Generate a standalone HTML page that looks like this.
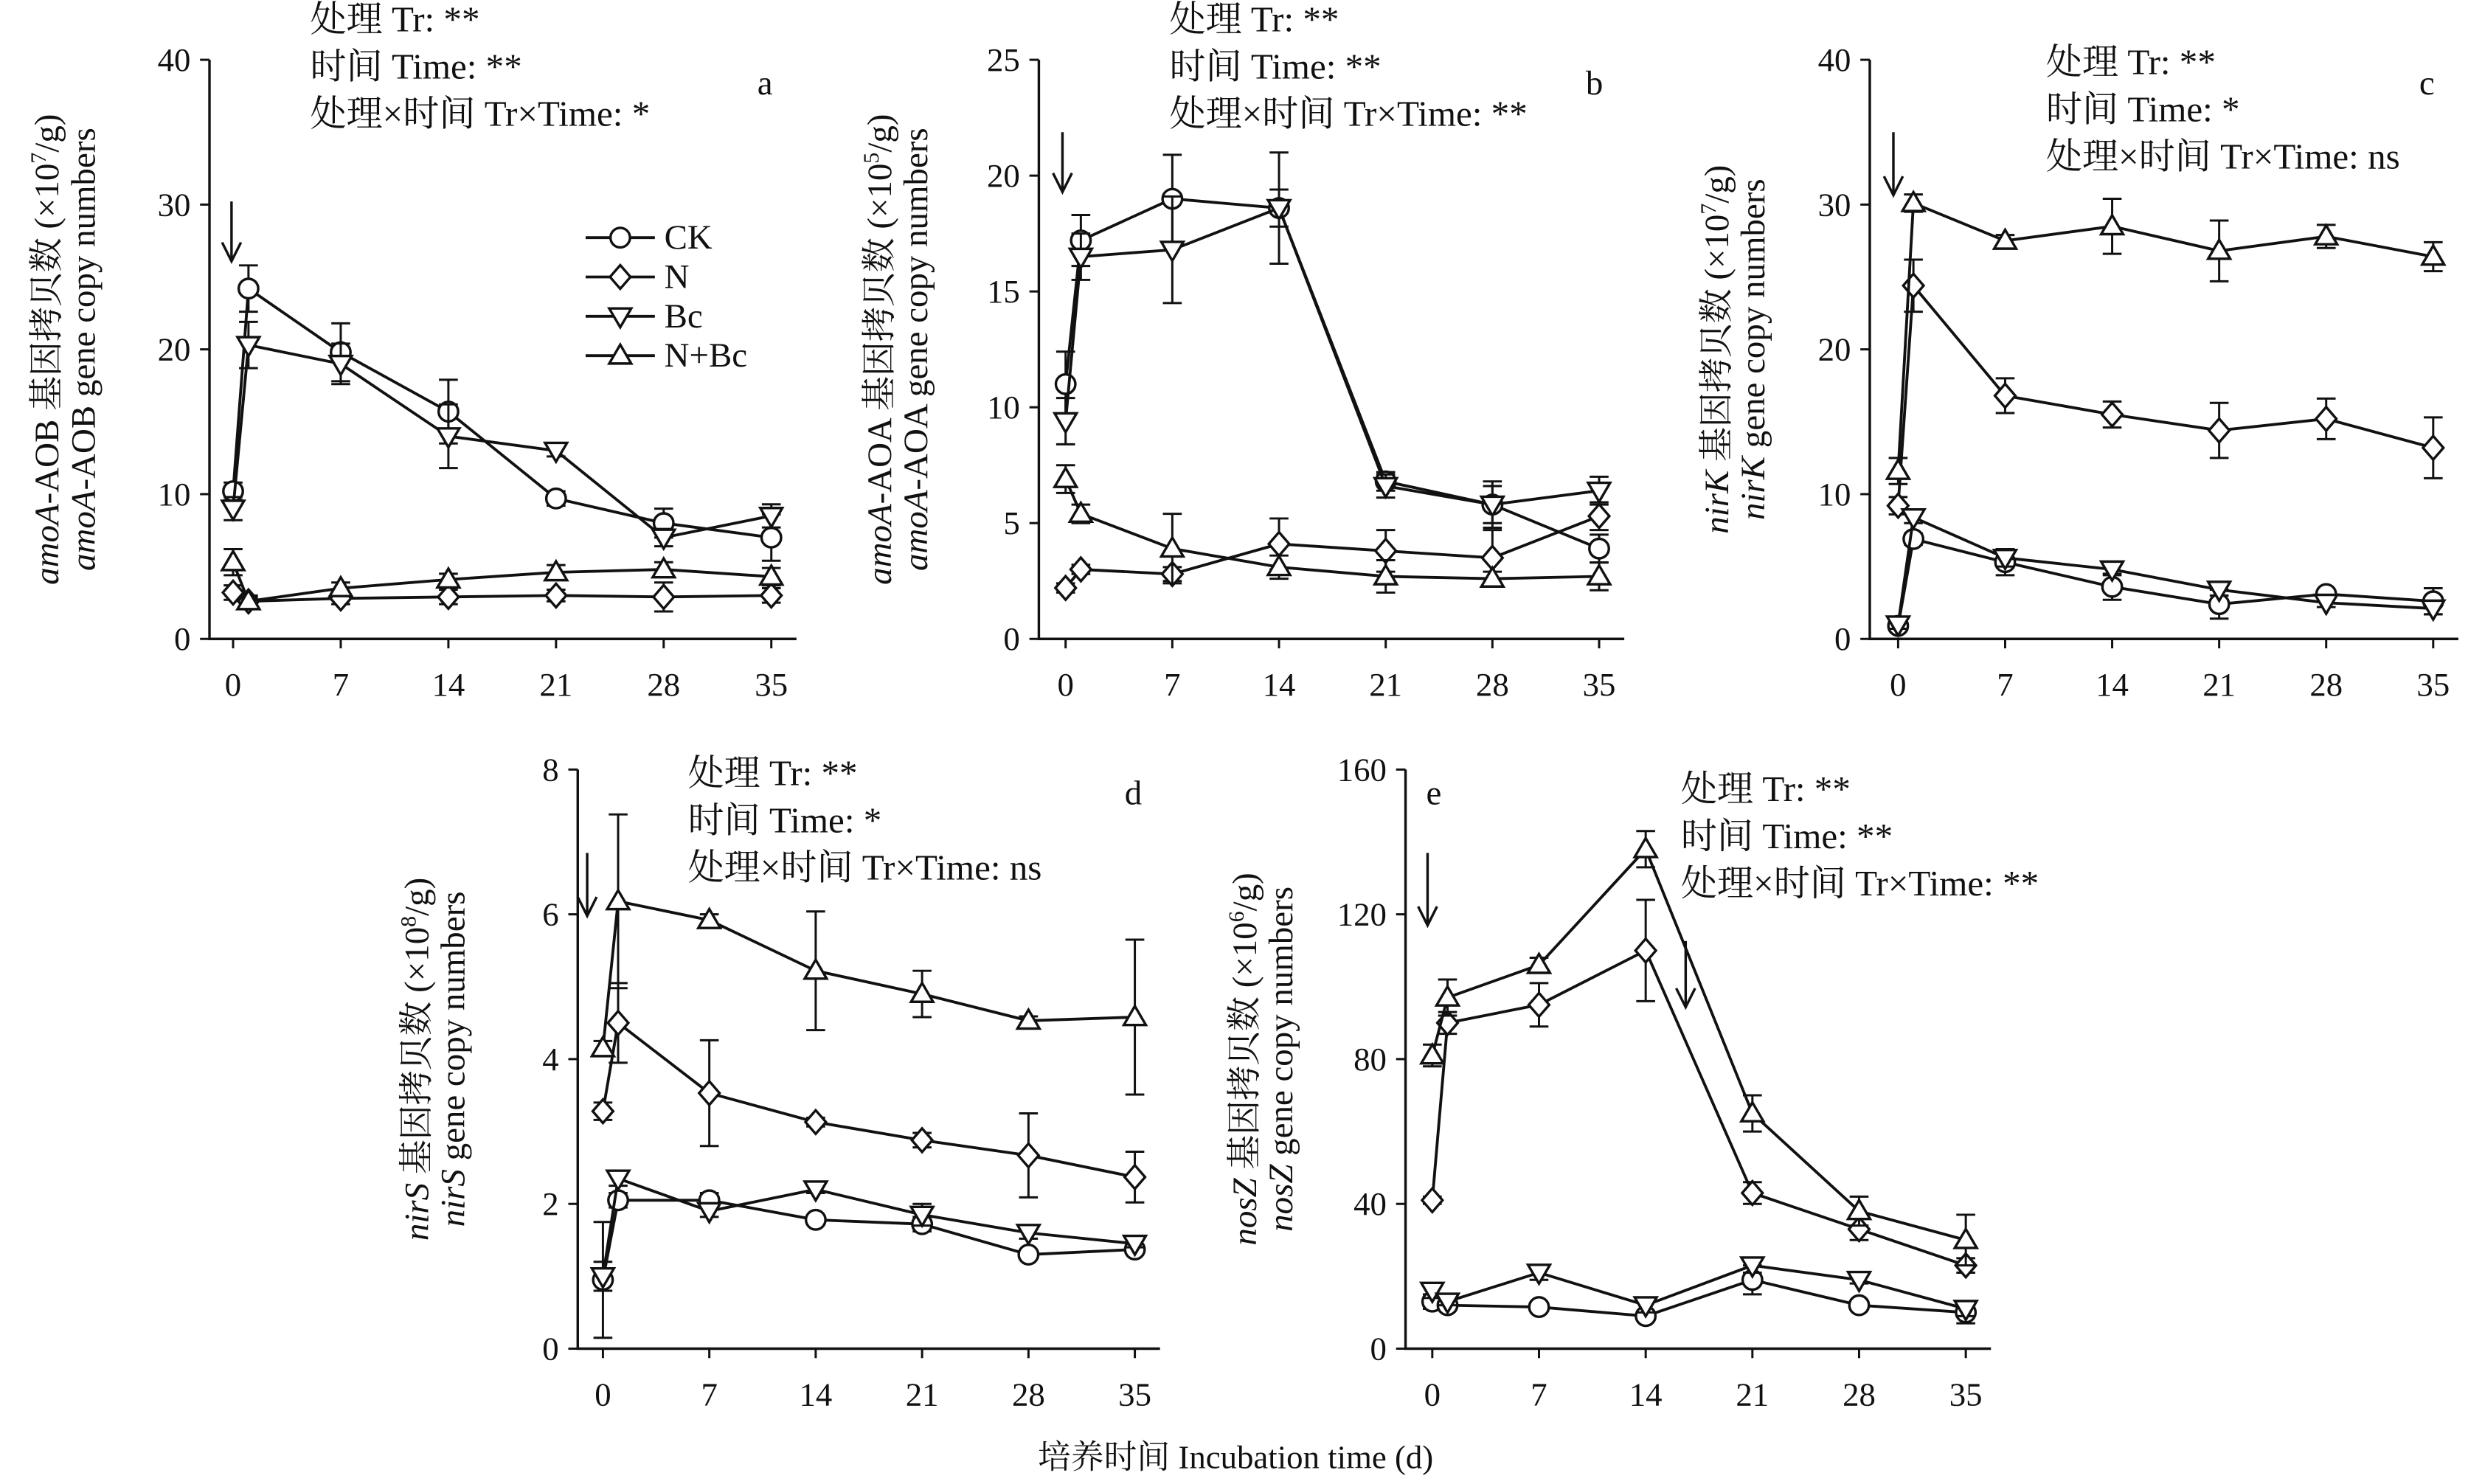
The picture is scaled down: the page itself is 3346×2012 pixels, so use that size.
<!DOCTYPE html>
<html><head><meta charset="utf-8"><style>
html,body{margin:0;padding:0;background:#fff}
svg{display:block}
text{font-family:"Liberation Serif","Noto Serif CJK SC","Noto Sans CJK SC",serif;fill:#111}
</style></head><body>
<svg id="fig" xmlns="http://www.w3.org/2000/svg" width="3346" height="2012" viewBox="0 0 1568 943">
<text x="785" y="933" font-size="21" text-anchor="middle">培养时间 Incubation time (d)</text>
</svg>
<script>
const days=[0,1,7,14,21,28,35];
const xTicks=[0,7,14,21,28,35];
const seriesNames=["CK","N","Bc","N+Bc"];
// panel a
const aCK=[10.2,24.2,19.8,15.7,9.7,8.0,7.0], aCKe=[0.6,1.6,2.0,2.2,0.5,1.0,1.6];
const aN=[3.2,2.6,2.8,2.9,3.0,2.9,3.0], aNe=[0.5,0.4,0.4,0.5,0.4,1.0,0.5];
const aBc=[9.0,20.3,19.0,14.0,13.0,7.0,8.5], aBce=[0.8,1.6,1.4,2.2,0.4,0.6,0.8];
const aNBc=[5.3,2.6,3.5,4.1,4.6,4.8,4.3], aNBce=[0.9,0.3,0.4,0.4,0.5,0.5,0.6];
// panel b
const bCK=[11.0,17.2,19.0,18.6,6.8,5.8,3.9], bCKe=[1.4,1.1,1.9,2.4,0.4,0.8,0.6];
const bN=[2.2,3.0,2.8,4.1,3.8,3.5,5.3], bNe=[0.2,0.2,0.3,1.1,0.9,1.2,0.6];
const bBc=[9.4,16.5,16.8,18.6,6.6,5.8,6.4], bBce=[1.0,1.0,2.3,0.8,0.5,1.0,0.6];
const bNBc=[6.9,5.4,3.9,3.1,2.7,2.6,2.7], bNBce=[0.6,0.4,1.5,0.5,0.7,0.3,0.6];
// panel c
const cCK=[0.9,6.9,5.3,3.6,2.4,3.1,2.6], cCKe=[0.3,0.4,0.9,0.9,1.0,0.3,0.9];
const cN=[9.2,24.4,16.8,15.5,14.4,15.2,13.2], cNe=[0.6,1.8,1.2,0.9,1.9,1.4,2.1];
const cBc=[1.0,8.4,5.6,4.8,3.4,2.5,2.1], cBce=[0.3,0.4,0.6,0.4,0.4,0.3,0.4];
const cNBc=[11.6,30.1,27.5,28.5,26.8,27.8,26.4], cNBce=[0.9,0.6,0.4,1.9,2.1,0.8,1.0];
// panel d
const dCK=[0.95,2.05,2.05,1.78,1.72,1.3,1.37], dCKe=[0.8,0.1,0.1,0.06,0.1,0.05,0.05];
const dN=[3.28,4.5,3.53,3.13,2.88,2.67,2.37], dNe=[0.12,0.55,0.73,0.06,0.1,0.58,0.35];
const dBc=[1.0,2.35,1.9,2.2,1.85,1.6,1.45], dBce=[0.2,0.1,0.08,0.05,0.15,0.08,0.05];
const dNBc=[4.15,6.18,5.92,5.22,4.9,4.53,4.58], dNBce=[0.1,1.2,0.08,0.82,0.32,0.06,1.07];
// panel e
const eCK=[13,12,11.5,9,19,12,10], eCKe=[2,1,1,1,4,1,3];
const eN=[41,90,95,110,43,33,23], eNe=[1,3,6,14,3,3,2];
const eBc=[16,13,21,12,23,19,11], eBce=[2,1,2,2,2,1,2];
const eNBc=[81,97,106,138,65,38,30], eNBce=[3,5,2,5,5,4,7];

const yTicksA=[0,10,20,30,40], yTicksB=[0,5,10,15,20,25], yTicksC=[0,10,20,30,40];
const yTicksD=[0,2,4,6,8], yTicksE=[0,40,80,120,160];

const NS="http://www.w3.org/2000/svg";
const svg=document.getElementById('fig');
function el(tag,attrs,parent){const e=document.createElementNS(NS,tag);for(const k in attrs)e.setAttribute(k,attrs[k]);(parent||svg).appendChild(e);return e;}
const shapes=["circle","diamond","down","up"];
function marker(g,type,x,y){
  const r=6.2;let e;
  if(type==="circle")e=el('circle',{cx:x,cy:y,r:r},g);
  else if(type==="diamond")e=el('polygon',{points:`${x},${y-7.5} ${x+6.5},${y} ${x},${y+7.5} ${x-6.5},${y}`},g);
  else if(type==="down")e=el('polygon',{points:`${x-7},${y-5} ${x+7},${y-5} ${x},${y+7}`},g);
  else e=el('polygon',{points:`${x-7},${y+5} ${x+7},${y+5} ${x},${y-7}`},g);
  e.setAttribute('fill','#fff');e.setAttribute('stroke','#111');e.setAttribute('stroke-width','1.6');
  
  
}
function panel(p){
  const g=el('g',{});
  
  
  const X=d=>p.x0+(d-0)*(p.x35-p.x0)/35;
  const Y=v=>p.yb-(v/p.ymax)*(p.yb-p.yt);
  const ax=el('path',{d:`M${p.ax},${p.yt} V${p.yb} H${p.x35+16}`,stroke:'#111','stroke-width':1.6,fill:'none'},g);
  
  p.yticks.forEach(t=>{el('line',{x1:p.ax-6,x2:p.ax,y1:Y(t),y2:Y(t),stroke:'#111','stroke-width':1.4},g);
    const tx=el('text',{x:p.ax-12,y:Y(t)+7,'font-size':21,'text-anchor':'end'},g);tx.textContent=t;
    });
  xTicks.forEach(t=>{el('line',{x1:X(t),x2:X(t),y1:p.yb,y2:p.yb+6,stroke:'#111','stroke-width':1.4},g);
    const tx=el('text',{x:X(t),y:p.yb+36,'font-size':21,'text-anchor':'middle'},g);tx.textContent=t;
    });
  p.series.forEach((s,i)=>{
    const sg=el('g',{},g);
    
    
    el('polyline',{points:days.map((d,j)=>X(d)+','+Y(s.v[j])).join(' '),fill:'none',stroke:'#111','stroke-width':1.8},sg);
    days.forEach((d,j)=>{const x=X(d);
      el('line',{x1:x,x2:x,y1:Y(s.v[j]-s.e[j]),y2:Y(s.v[j]+s.e[j]),stroke:'#111','stroke-width':1.4},sg);
      [s.v[j]-s.e[j],s.v[j]+s.e[j]].forEach(v=>el('line',{x1:x-6,x2:x+6,y1:Y(v),y2:Y(v),stroke:'#111','stroke-width':1.4},sg));});
    days.forEach((d,j)=>marker(sg,shapes[i],X(d),Y(s.v[j])));
  });
  const cy=(p.yt+p.yb)/2;
  [[p.lab1,p.lx],[p.lab2,p.lx+23]].forEach(([html,lx],k)=>{
    const t=el('text',{x:lx,y:cy,'font-size':22,'text-anchor':'middle',transform:`rotate(-90 ${lx} ${cy})`},g);
    t.innerHTML=html;
    
    
  });
  p.notes.forEach((n,k)=>{const t=el('text',{x:p.nx,y:p.ny+k*30,'font-size':23},g);t.textContent=n;
    });
  const lt=el('text',{x:p.lxl,y:p.lyl,'font-size':22,'text-anchor':'middle'},g);lt.textContent=p.id;
  
  p.arrows.forEach(a=>{const ag=el('g',{},g);
    
    el('line',{x1:a[0],x2:a[0],y1:a[1],y2:a[2],stroke:'#111','stroke-width':1.6},ag);
    el('path',{d:`M${a[0]-6},${a[2]-12} L${a[0]},${a[2]} L${a[0]+6},${a[2]-12}`,stroke:'#111','stroke-width':1.6,fill:'none'},ag);});
}
const notes3=(a,b,c)=>["处理 Tr: "+a,"时间 Time: "+b,"处理×时间 Tr×Time: "+c];
panel({id:'a',ax:133,x0:148,x35:490,yt:38,yb:406,ymax:40,yticks:yTicksA,
  series:[{v:aCK,e:aCKe},{v:aN,e:aNe},{v:aBc,e:aBce},{v:aNBc,e:aNBce}],
  lab1:'<tspan font-style="italic">amoA</tspan>-AOB 基因拷贝数 (×10<tspan font-size="14" dy="-8">7</tspan><tspan dy="8">/g)</tspan>',
  lab2:'<tspan font-style="italic">amoA</tspan>-AOB gene copy numbers',lx:37,
  notes:notes3('**','**','*'),nx:197,ny:20,lxl:486,lyl:60,arrows:[[147,128,166]]});
panel({id:'b',ax:660,x0:677,x35:1016,yt:38,yb:406,ymax:25,yticks:yTicksB,
  series:[{v:bCK,e:bCKe},{v:bN,e:bNe},{v:bBc,e:bBce},{v:bNBc,e:bNBce}],
  lab1:'<tspan font-style="italic">amoA</tspan>-AOA 基因拷贝数 (×10<tspan font-size="14" dy="-8">5</tspan><tspan dy="8">/g)</tspan>',
  lab2:'<tspan font-style="italic">amoA</tspan>-AOA gene copy numbers',lx:566,
  notes:notes3('**','**','**'),nx:743,ny:20,lxl:1013,lyl:60,arrows:[[675,84,122]]});
panel({id:'c',ax:1188,x0:1206,x35:1546,yt:38,yb:406,ymax:40,yticks:yTicksC,
  series:[{v:cCK,e:cCKe},{v:cN,e:cNe},{v:cBc,e:cBce},{v:cNBc,e:cNBce}],
  lab1:'<tspan font-style="italic">nirK</tspan> 基因拷贝数 (×10<tspan font-size="14" dy="-8">7</tspan><tspan dy="8">/g)</tspan>',
  lab2:'<tspan font-style="italic">nirK</tspan> gene copy numbers',lx:1098,
  notes:notes3('**','*','ns'),nx:1300,ny:47,lxl:1542,lyl:60,arrows:[[1203,84,124]]});
panel({id:'d',ax:367,x0:383,x35:721,yt:489,yb:857,ymax:8,yticks:yTicksD,
  series:[{v:dCK,e:dCKe},{v:dN,e:dNe},{v:dBc,e:dBce},{v:dNBc,e:dNBce}],
  lab1:'<tspan font-style="italic">nirS</tspan> 基因拷贝数 (×10<tspan font-size="14" dy="-8">8</tspan><tspan dy="8">/g)</tspan>',
  lab2:'<tspan font-style="italic">nirS</tspan> gene copy numbers',lx:272,
  notes:notes3('**','*','ns'),nx:437,ny:499,lxl:720,lyl:511,arrows:[[373,542,582]]});
panel({id:'e',ax:893,x0:910,x35:1249,yt:489,yb:857,ymax:160,yticks:yTicksE,
  series:[{v:eCK,e:eCKe},{v:eN,e:eNe},{v:eBc,e:eBce},{v:eNBc,e:eNBce}],
  lab1:'<tspan font-style="italic">nosZ</tspan> 基因拷贝数 (×10<tspan font-size="14" dy="-8">6</tspan><tspan dy="8">/g)</tspan>',
  lab2:'<tspan font-style="italic">nosZ</tspan> gene copy numbers',lx:798,
  notes:notes3('**','**','**'),nx:1068,ny:509,lxl:911,lyl:511,arrows:[[907,542,588],[1071,598,640]]});
const lg=el('g',{});


seriesNames.forEach((n,i)=>{const y=151+i*25;
  const eg=el('g',{},lg);
  
  
  el('line',{x1:372,x2:416,y1:y,y2:y,stroke:'#111','stroke-width':1.8},eg);
  marker(eg,shapes[i],394,y);
  const t=el('text',{x:422,y:y+7,'font-size':22},eg);t.textContent=n;});
</script>
</body></html>
